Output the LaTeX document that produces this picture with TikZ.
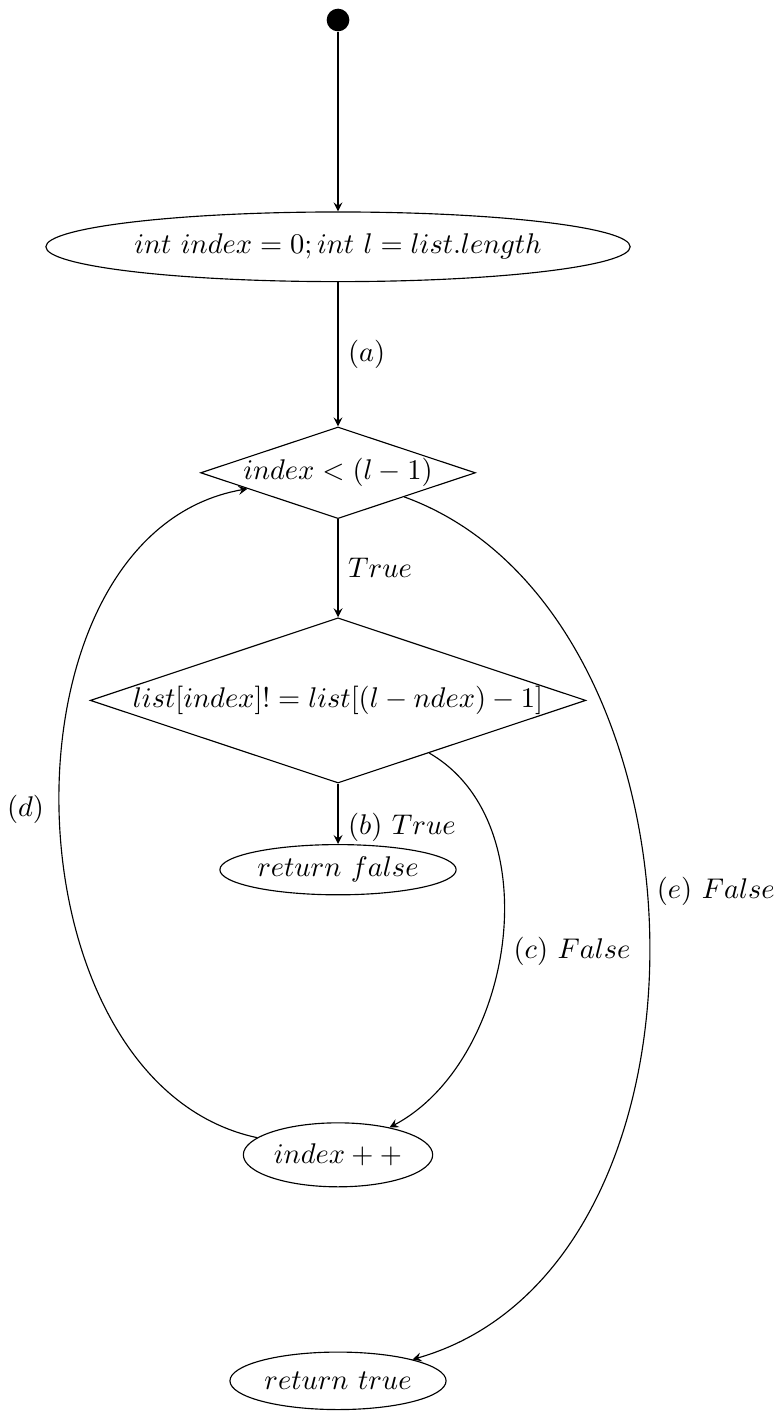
\documentclass[tikz,border=0pt]{standalone}
\usepackage{amsmath}
\usetikzlibrary{shapes.geometric,arrows.meta,positioning}

\begin{document}
\begin{tikzpicture}[
  >=stealth,
  dot/.style={circle, fill=black, inner sep=0pt, minimum size=0.28cm},
  act/.style={ellipse, draw, inner sep=1pt, minimum height=#1},
  act/.default=0.62cm,
  cond/.style={diamond, draw, aspect=3, inner sep=0pt},
  arr/.style={->}
]
  \useasboundingbox (-4.173,0.247) rectangle (5.432,-17.185);
  \node[dot]         (start) at (0,0)      {};
  \node[act=0.86cm]  (init)  at (0,-2.80)  {$int\ index = 0; int\ l = list.length$};
  \node[cond]        (loop)  at (0,-5.59)  {$index < (l-1)$};
  \node[cond]        (check) at (0,-8.40)  {$list[index]!=list[(l-ndex)-1]$};
  \node[act]         (retf)  at (0,-10.49) {$return\ false$};
  \node[act=0.79cm]  (inc)   at (0,-14.01) {$index++$};
  \node[act=0.71cm]  (rett)  at (0,-16.80) {$return\ true$};

  \draw[arr] (start) -- (init);
  \draw[arr] (init) -- node[right]{$(a)$} (loop);
  \draw[arr] (loop) -- node[right]{$True$} (check);
  \draw[arr] (check) -- node[right, pos=0.72]{$(b)\ True$} (retf);
  \draw[arr] (check) to[out=-30, in=28, looseness=0.96] node[right, pos=0.52, xshift=1pt]{$(c)\ False$} (inc);
  \draw[arr] (inc) to[out=168, in=190, looseness=1.03] node[left, xshift=-2pt]{$(d)$} (loop);
  \draw[arr] (loop) to[out=-20, in=16] node[right, pos=0.46]{$(e)\ False$} (rett);
\end{tikzpicture}
\end{document}
